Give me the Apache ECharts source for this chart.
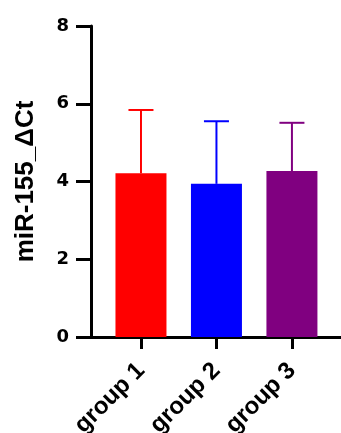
<!DOCTYPE html>
<html><head><meta charset="utf-8">
<script src="https://cdn.jsdelivr.net/npm/echarts@6/dist/echarts.min.js"></script>
<style>html,body{margin:0;padding:0;background:#fff}#c{width:341px;height:433px}</style>
</head><body><div id="c"></div>
<script>
var categories = ['group 1', 'group 2', 'group 3'];
var means = [4.21, 3.94, 4.27];
var sds = [1.63, 1.61, 1.24];
var colors = ['#FF0000', '#0000FF', '#800080'];

var chart = echarts.init(document.getElementById('c'));
var font = 'Liberation Sans, Arial, sans-serif';
var barData = means.map(function (m, i) {
  return { value: [i, m], itemStyle: { color: colors[i] } };
});
var errData = means.map(function (m, i) { return [i, m, m + sds[i]]; });

chart.setOption({
  animation: false,
  grid: { left: 91, right: 0, top: 26, bottom: 96, outerBoundsMode: 'none', containLabel: false },
  xAxis: {
    type: 'value', min: -0.662, max: 2.65,
    splitLine: { show: false },
    axisLine: { show: true, onZero: false, lineStyle: { color: '#000', width: 3 } },
    axisTick: { show: true, customValues: [0, 1, 2], length: 12, lineStyle: { color: '#000', width: 3 } },
    axisLabel: {
      customValues: [0, 1, 2], rotate: 45, margin: 30,
      color: '#000', fontWeight: 'bold', fontSize: 24, fontFamily: font,
      formatter: function (v) { return categories[Math.round(v)]; }
    }
  },
  yAxis: {
    type: 'value', min: 0, max: 8, interval: 2,
    name: 'miR-155_ΔCt', nameLocation: 'middle', nameGap: 52,
    nameTextStyle: { color: '#000', fontWeight: 'bold', fontSize: 26, fontFamily: font },
    splitLine: { show: false },
    axisLine: { show: true, onZero: false, lineStyle: { color: '#000', width: 3 } },
    axisTick: { show: true, length: 15, lineStyle: { color: '#000', width: 3 } },
    axisLabel: { color: '#000', fontWeight: 'bold', fontSize: 18, fontFamily: 'DejaVu Sans', margin: 22 }
  },
  series: [
    { type: 'bar', data: barData, barWidth: 51 },
    {
      type: 'custom', data: errData, z: 1,
      renderItem: function (params, api) {
        var x = api.value(0);
        var base = api.coord([x, api.value(1)]);
        var top = api.coord([x, api.value(2)]);
        var c = colors[params.dataIndex];
        var st = { stroke: c, lineWidth: 2 };
        return { type: 'group', children: [
          { type: 'line', shape: { x1: base[0], y1: base[1], x2: top[0], y2: top[1] }, style: st },
          { type: 'line', shape: { x1: top[0] - 12.5, y1: top[1], x2: top[0] + 12.5, y2: top[1] }, style: st }
        ]};
      }
    }
  ]
});
</script></body></html>
